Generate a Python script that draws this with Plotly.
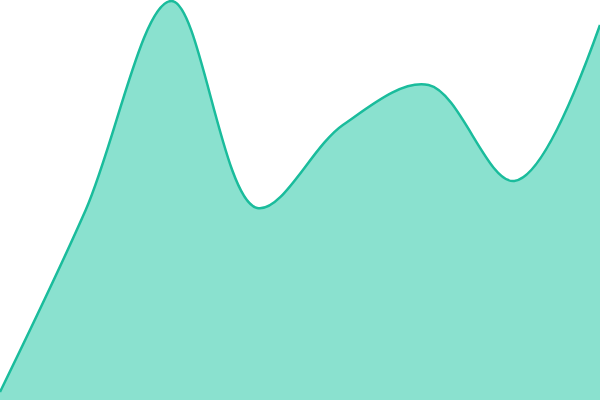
import plotly.graph_objects as go

# x positions (evenly spaced categories) and series values
x_values = [0, 1, 2, 3, 4, 5, 6, 7]
y_values = [8, 190, 399, 192, 275, 315, 219, 375]

fig = go.Figure()

fig.add_trace(
    go.Scatter(
        x=x_values,
        y=y_values,
        mode="lines",
        line=dict(color="#1abc9c", width=2.5, shape="spline", smoothing=1),
        fill="tozeroy",
        fillcolor="rgba(22,196,160,0.5)",
        hoverinfo="skip",
    )
)

fig.update_layout(
    width=600,
    height=400,
    margin=dict(l=0, r=0, t=0, b=0),
    paper_bgcolor="white",
    plot_bgcolor="white",
    showlegend=False,
    xaxis=dict(visible=False, range=[0, 7]),
    yaxis=dict(visible=False, range=[0, 400]),
)

# page has a default 8px body margin; drop it so the chart fills the window
fig.write_html(
    "out.html",
    config={"displayModeBar": False},
    post_script="document.body.style.margin='0';document.body.style.overflow='hidden';",
)
